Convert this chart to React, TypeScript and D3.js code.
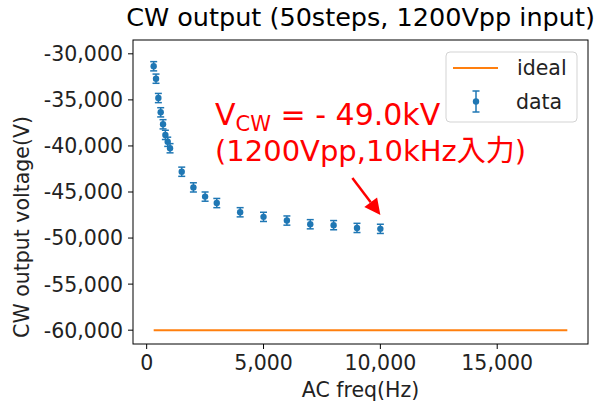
import React from "react";
import * as d3 from "d3";

const freqs = [300, 400, 500, 600, 700, 800, 900, 1000, 1500, 2000, 2500, 3000, 4000, 5000, 6000, 7000, 8000, 9000, 10000];
const volts = [-31350, -32700, -34800, -36350, -37650, -38800, -39550, -40250, -42800, -44500, -45500, -46200, -47200, -47700, -48100, -48500, -48600, -48900, -49000];
const errs = [500, 500, 500, 500, 500, 500, 500, 500, 500, 500, 500, 500, 500, 500, 500, 500, 500, 500, 500];
const idealX = [300, 18000];
const idealY = [-60000, -60000];
const xTicks = [0, 5000, 10000, 15000];
const yTicks = [-30000, -35000, -40000, -45000, -50000, -55000, -60000];

const W = 601, H = 401;
const L = 133, R = 588, T = 40, B = 344;
const FONT = "'DejaVu Sans', 'Noto Sans CJK JP', sans-serif";
const BLUE = "#1f77b4";
const ORANGE = "#ff7f0e";
const fmt = d3.format(",");

export default function App() {
  const x = d3.scaleLinear().domain([-585, 18885]).range([L, R]);
  const y = d3.scaleLinear().domain([-61500, -28500]).range([B, T]);
  const line = d3.line<number>().x((d, i) => x(idealX[i])).y((d) => y(d));
  const tipX = x(10000), tipY = y(-47500);
  const startX = tipX - 28, startY = tipY - 37;
  const ang = Math.atan2(tipY - startY, tipX - startX);
  const hl = 16, hw = 8;
  const bx = tipX - hl * Math.cos(ang), by = tipY - hl * Math.sin(ang);
  const px = -Math.sin(ang) * hw, py = Math.cos(ang) * hw;
  return (
    <svg width={W} height={H} style={{ position: "absolute", left: 0, top: 0, background: "#fff" }} fontFamily={FONT}>
      <rect x={0} y={0} width={W} height={H} fill="#fff" />
      <text x={(L + R) / 2} y={26} textAnchor="middle" fontSize={25.5} fill="#000">CW output (50steps, 1200Vpp input)</text>
      <path d={line(idealY) || ""} stroke={ORANGE} strokeWidth={2} fill="none" />
      {freqs.map((f, i) => {
        const cx = x(f), cy = y(volts[i]);
        const y1 = y(volts[i] + errs[i]), y2 = y(volts[i] - errs[i]);
        return (
          <g key={i}>
            <line x1={cx} x2={cx} y1={y1} y2={y2} stroke={BLUE} strokeWidth={1.5} />
            <line x1={cx - 3.5} x2={cx + 3.5} y1={y1} y2={y1} stroke={BLUE} strokeWidth={1.5} />
            <line x1={cx - 3.5} x2={cx + 3.5} y1={y2} y2={y2} stroke={BLUE} strokeWidth={1.5} />
            <circle cx={cx} cy={cy} r={3.2} fill={BLUE} />
          </g>
        );
      })}
      <rect x={L} y={T} width={R - L} height={B - T} fill="none" stroke="#000" strokeWidth={1} />
      {xTicks.map((t) => (
        <g key={t}>
          <line x1={x(t)} x2={x(t)} y1={B} y2={B + 5} stroke="#000" />
          <text x={x(t)} y={370} textAnchor="middle" fontSize={20.5} fill="#222">{fmt(t)}</text>
        </g>
      ))}
      {yTicks.map((t) => (
        <g key={t}>
          <line x1={L - 5} x2={L} y1={y(t)} y2={y(t)} stroke="#000" />
          <text x={L - 10} y={y(t)} dy="0.36em" textAnchor="end" fontSize={20.5} fill="#222">{fmt(t).replace("−", "-")}</text>
        </g>
      ))}
      <text x={(L + R) / 2} y={397} textAnchor="middle" fontSize={20.5} fill="#222">AC freq(Hz)</text>
      <text transform={`translate(29,227) rotate(-90)`} textAnchor="middle" fontSize={20.5} fill="#222">CW output voltage(V)</text>
      <rect x={446} y={52} width={131} height={70} rx={4} fill="#fff" fillOpacity={0.8} stroke="#d3d3d3" strokeWidth={1} />
      <line x1={453} x2={498} y1={68} y2={68} stroke={ORANGE} strokeWidth={2} />
      <text x={517} y={68} dy="0.36em" fontSize={20.5} fill="#222">ideal</text>
      <line x1={476} x2={476} y1={91} y2={112} stroke={BLUE} strokeWidth={1.5} />
      <line x1={472.5} x2={479.5} y1={91} y2={91} stroke={BLUE} strokeWidth={1.5} />
      <line x1={472.5} x2={479.5} y1={112} y2={112} stroke={BLUE} strokeWidth={1.5} />
      <circle cx={476} cy={101.5} r={3.2} fill={BLUE} />
      <text x={516} y={101.5} dy="0.36em" fontSize={20.5} fill="#222">data</text>
      <text x={215} y={125} fontSize={30} fill="#ff0000">
        V<tspan fontSize={21} dy={6}>CW</tspan><tspan dy={-6}> = - 49.0kV</tspan>
      </text>
      <text x={215} y={161} fontSize={29} fill="#ff0000">(1200Vpp,10kHz入力)</text>
      <line x1={startX} y1={startY} x2={bx} y2={by} stroke="#ff0000" strokeWidth={2.5} />
      <polygon points={`${tipX},${tipY} ${bx + px},${by + py} ${bx - px},${by - py}`} fill="#ff0000" />
    </svg>
  );
}
